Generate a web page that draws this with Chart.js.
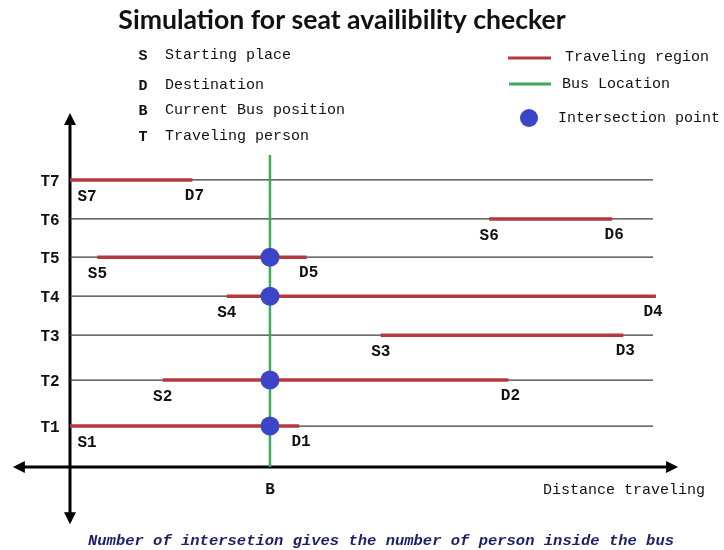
<!DOCTYPE html>
<html>
<head>
<meta charset="utf-8">
<script src="https://cdn.jsdelivr.net/npm/chart.js@4"></script>
<style>body{margin:0;background:#fff}</style>
</head>
<body>
<canvas id="seatChart" width="724" height="550"></canvas>
<script>
const travelers = ['T1', 'T2', 'T3', 'T4', 'T5', 'T6', 'T7'];
const levels = [10.5, 22.3, 33.8, 43.8, 53.8, 63.6, 73.6];
const starts = [0, 15.9, 53.3, 26.9, 4.7, 71.9, 0];
const ends = [39.3, 75.2, 94.9, 100.5, 40.6, 93.0, 21.0];
const busPosition = 34.3;
const busTop = 80;
const trackEnd = 100;

const legendLeft = [
  ['S', 'Starting place'],
  ['D', 'Destination'],
  ['B', 'Current Bus position'],
  ['T', 'Traveling person']
];

var datasets = [];
for (var i = 0; i < travelers.length; i++) {
  // full track for each person
  datasets.push({
    data: [{x: 0, y: levels[i]}, {x: trackEnd, y: levels[i]}],
    borderColor: '#3a3a3a', borderWidth: 1.2, order: 3
  });
  // traveling region
  datasets.push({
    data: [{x: starts[i], y: levels[i]}, {x: ends[i], y: levels[i]}],
    borderColor: '#b3393f', borderWidth: 3.5, order: 2
  });
}
datasets.push({
  data: [{x: busPosition, y: 0}, {x: busPosition, y: busTop}],
  borderColor: '#3dab57', borderWidth: 2.5, order: 1
});

var hits = [];
for (var i = 0; i < travelers.length; i++) {
  if (starts[i] <= busPosition && ends[i] >= busPosition) {
    hits.push({x: busPosition, y: levels[i]});
  }
}
datasets.push({
  data: hits, showLine: false, pointRadius: 9.5, pointHoverRadius: 9.5,
  backgroundColor: '#3c45c9', borderWidth: 0, order: 0
});

const mono = '"Liberation Mono", "Courier New", monospace';

const drawing = {
  id: 'drawing',
  beforeDatasetsDraw(chart) {
    const ctx = chart.ctx, sx = chart.scales.x, sy = chart.scales.y;
    const x0 = sx.getPixelForValue(0), y0 = sy.getPixelForValue(0);
    const top = sy.getPixelForValue(90.8), bottom = sy.getPixelForValue(-14.7);
    const left = sx.getPixelForValue(-9.8), right = sx.getPixelForValue(104.3);
    ctx.save();
    ctx.strokeStyle = '#000';
    ctx.fillStyle = '#000';
    ctx.lineWidth = 3;
    ctx.beginPath();
    ctx.moveTo(x0, top + 8); ctx.lineTo(x0, bottom - 8);
    ctx.moveTo(left + 8, y0); ctx.lineTo(right - 8, y0);
    ctx.stroke();
    ctx.beginPath();
    ctx.moveTo(x0, top); ctx.lineTo(x0 - 6, top + 12); ctx.lineTo(x0 + 6, top + 12); ctx.closePath();
    ctx.moveTo(x0, bottom); ctx.lineTo(x0 - 6, bottom - 12); ctx.lineTo(x0 + 6, bottom - 12); ctx.closePath();
    ctx.moveTo(left, y0); ctx.lineTo(left + 12, y0 - 6); ctx.lineTo(left + 12, y0 + 6); ctx.closePath();
    ctx.moveTo(right, y0); ctx.lineTo(right - 12, y0 - 6); ctx.lineTo(right - 12, y0 + 6); ctx.closePath();
    ctx.fill();
    ctx.restore();
  },
  afterDraw(chart) {
    const ctx = chart.ctx, sx = chart.scales.x, sy = chart.scales.y;
    const x0 = sx.getPixelForValue(0), y0 = sy.getPixelForValue(0);
    ctx.save();
    ctx.textBaseline = 'middle';

    // title
    ctx.fillStyle = '#111';
    ctx.textAlign = 'center';
    ctx.font = 'bold 24px Lato';
    var w = ctx.measureText('Simulation for seat availibility checker').width;
    ctx.font = 'bold ' + (24 * 448 / w).toFixed(1) + 'px Lato';
    ctx.fillText('Simulation for seat availibility checker', 342, 20);

    // left legend
    var ly = [56, 86, 111, 137];
    for (var i = 0; i < legendLeft.length; i++) {
      ctx.textAlign = 'center';
      ctx.font = 'bold 15px ' + mono;
      ctx.fillText(legendLeft[i][0], 143, ly[i]);
      ctx.textAlign = 'left';
      ctx.font = '15px ' + mono;
      ctx.fillText(legendLeft[i][1], 165, ly[i] - 1);
    }

    // right legend
    ctx.lineWidth = 3;
    ctx.strokeStyle = '#b3393f';
    ctx.beginPath(); ctx.moveTo(508, 58); ctx.lineTo(551, 58); ctx.stroke();
    ctx.strokeStyle = '#3dab57';
    ctx.beginPath(); ctx.moveTo(509, 84); ctx.lineTo(551, 84); ctx.stroke();
    ctx.fillStyle = '#3c45c9';
    ctx.beginPath(); ctx.arc(529, 118, 9, 0, Math.PI * 2); ctx.fill();
    ctx.fillStyle = '#111';
    ctx.font = '15px ' + mono;
    ctx.fillText('Traveling region', 565, 57);
    ctx.fillText('Bus Location', 562, 84);
    ctx.fillText('Intersection point', 558, 118);

    // track labels
    ctx.textAlign = 'center';
    ctx.font = 'bold 16px ' + mono;
    var maxX = sx.getPixelForValue(trackEnd);
    for (var i = 0; i < travelers.length; i++) {
      var py = sy.getPixelForValue(levels[i]);
      ctx.fillText(travelers[i], 50, py + 2);
      var n = travelers[i].slice(1);
      var spx = Math.max(sx.getPixelForValue(starts[i]), x0 + 17);
      var epx = Math.min(sx.getPixelForValue(ends[i]) + 2, maxX);
      ctx.fillText('S' + n, spx, py + 17);
      ctx.fillText('D' + n, epx, py + 16);
    }
    ctx.fillText('B', sx.getPixelForValue(busPosition), y0 + 23);

    ctx.textAlign = 'left';
    ctx.font = '15px ' + mono;
    ctx.fillText('Distance traveling', 543, y0 + 23);

    ctx.fillStyle = '#1e1e6a';
    ctx.font = 'italic bold 15.5px ' + mono;
    ctx.fillText('Number of intersetion gives the number of person inside the bus', 88, 541);
    ctx.restore();
  }
};

const config = {
  type: 'scatter',
  data: {datasets: datasets},
  options: {
    responsive: false,
    animation: false,
    showLine: true,
    elements: {point: {radius: 0, hoverRadius: 0}},
    layout: {padding: {left: 11.7, right: 12.7, top: 96.5, bottom: 24.5}},
    scales: {
      x: {type: 'linear', min: -10, max: 110, display: false},
      y: {type: 'linear', min: -15, max: 95, display: false}
    },
    plugins: {legend: {display: false}, tooltip: {enabled: false}}
  },
  plugins: [drawing]
};

const seatChart = new Chart(document.getElementById('seatChart'), config);
</script>
</body>
</html>
